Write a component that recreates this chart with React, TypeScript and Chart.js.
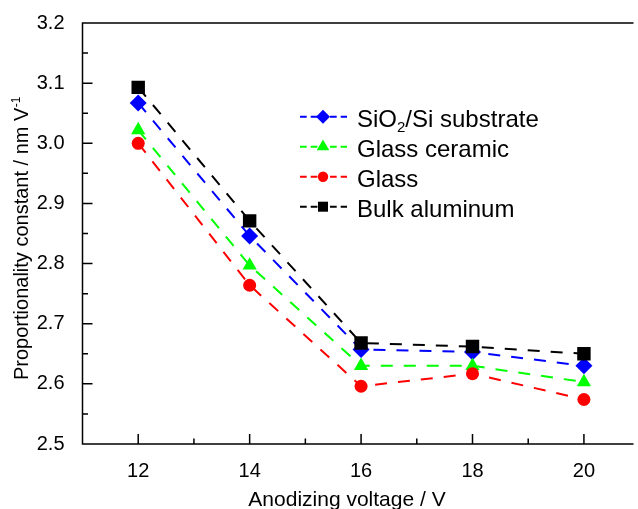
import { useEffect, useRef } from 'react';
import { Chart, registerables } from 'chart.js';

Chart.register(...registerables);

// ---- data ----
const voltages = [12, 14, 16, 18, 20];
const sio2Values = [3.067, 2.846, 2.657, 2.653, 2.63];
const glassCeramicValues = [3.022, 2.797, 2.63, 2.63, 2.603];
const glassValues = [3.0, 2.764, 2.596, 2.617, 2.574];
const bulkAluminumValues = [3.093, 2.871, 2.668, 2.662, 2.65];

const xTickLabels = ['12', '14', '16', '18', '20'];
const yTickLabels = ['2.5', '2.6', '2.7', '2.8', '2.9', '3.0', '3.1', '3.2'];

const seriesNames = ['SiO2/Si substrate', 'Glass ceramic', 'Glass', 'Bulk aluminum'];
const seriesColors = ['#0000ff', '#00ff00', '#ff0000', '#000000'];
const seriesMarkers = ['rectRot', 'triangle', 'circle', 'rect'];

const xTitle = 'Anodizing voltage / V';
const yTitle = 'Proportionality constant / nm V';
const yTitleSup = '-1';

const FONT = "'Liberation Sans', Arial, Helvetica, sans-serif";

function drawMarker(ctx: CanvasRenderingContext2D, style: string, x: number, y: number, size: number, color: string) {
  ctx.save();
  ctx.fillStyle = color;
  ctx.beginPath();
  if (style === 'rect') {
    ctx.rect(x - size / 2, y - size / 2, size, size);
  } else if (style === 'rectRot') {
    ctx.moveTo(x, y - size);
    ctx.lineTo(x + size, y);
    ctx.lineTo(x, y + size);
    ctx.lineTo(x - size, y);
    ctx.closePath();
  } else if (style === 'triangle') {
    ctx.moveTo(x, y - size);
    ctx.lineTo(x + size * 0.866, y + size * 0.5);
    ctx.lineTo(x - size * 0.866, y + size * 0.5);
    ctx.closePath();
  } else {
    ctx.arc(x, y, size, 0, Math.PI * 2);
  }
  ctx.fill();
  ctx.restore();
}

const isMultiple = (v: number, step: number) => Math.abs(v / step - Math.round(v / step)) < 1e-6;

const framePlugin = {
  id: 'frame',
  beforeDatasetsDraw(chart: any) {
    const { ctx, chartArea: a, scales } = chart;
    ctx.save();
    ctx.strokeStyle = '#000';
    ctx.lineWidth = 1.5;
    ctx.beginPath();
    ctx.moveTo(a.right + 5, a.top);
    ctx.lineTo(a.left, a.top);
    ctx.lineTo(a.left, a.bottom);
    ctx.lineTo(a.right + 5, a.bottom);
    ctx.stroke();
    ctx.beginPath();
    scales.x.ticks.forEach((t: any) => {
      const v = t.value;
      if (!isMultiple(v, 1)) return;
      const px = scales.x.getPixelForValue(v);
      if (px <= a.left + 1 || px >= a.right) return;
      const major = xTickLabels.includes(String(Math.round(v)));
      ctx.moveTo(px, a.bottom);
      ctx.lineTo(px, a.bottom - (major ? 10 : 5.5));
    });
    scales.y.ticks.forEach((t: any) => {
      const v = t.value;
      const py = scales.y.getPixelForValue(v);
      if (py >= a.bottom - 1 || py <= a.top + 1) return;
      const major = isMultiple(v, 0.1);
      ctx.moveTo(a.left, py);
      ctx.lineTo(a.left + (major ? 10 : 5.5), py);
    });
    ctx.stroke();
    ctx.restore();
  },
  afterDraw(chart: any) {
    const { ctx } = chart;
    ctx.save();
    ctx.fillStyle = '#000';
    // x title
    ctx.font = `21px ${FONT}`;
    ctx.textAlign = 'center';
    ctx.textBaseline = 'alphabetic';
    ctx.fillText(xTitle, 347, 506);
    // y title
    ctx.save();
    ctx.translate(27.5, 380);
    ctx.rotate(-Math.PI / 2);
    ctx.textAlign = 'left';
    ctx.font = `20px ${FONT}`;
    ctx.fillText(yTitle, 0, 0);
    const w = ctx.measureText(yTitle).width;
    ctx.font = `12px ${FONT}`;
    ctx.fillText(yTitleSup, w + 0.5, -8);
    ctx.restore();

    // legend
    const rowY0 = 116.7;
    const rowGap = 30;
    seriesNames.forEach((name, i) => {
      const y = rowY0 + i * rowGap;
      const color = seriesColors[i];
      ctx.save();
      ctx.strokeStyle = color;
      ctx.lineWidth = 2;
      ctx.setLineDash([6.7, 4]);
      ctx.beginPath();
      ctx.moveTo(300, y);
      ctx.lineTo(317.5, y);
      ctx.moveTo(330, y);
      ctx.lineTo(347, y);
      ctx.stroke();
      ctx.restore();
      const m = seriesMarkers[i];
      const size = m === 'rect' ? 10 : m === 'rectRot' ? 7 : m === 'triangle' ? 7.3 : 5.2;
      drawMarker(ctx, m, 323, y, size, color);
      ctx.fillStyle = '#000';
      ctx.textAlign = 'left';
      ctx.textBaseline = 'alphabetic';
      const base = y + 10;
      let x = 357;
      const subIdx = name.indexOf('O2');
      if (subIdx >= 0) {
        const p1 = name.slice(0, subIdx + 1);
        const p2 = '2';
        const p3 = name.slice(subIdx + 2);
        ctx.font = `24px ${FONT}`;
        ctx.fillText(p1, x, base);
        x += ctx.measureText(p1).width;
        ctx.font = `15px ${FONT}`;
        ctx.fillText(p2, x, base + 5);
        x += ctx.measureText(p2).width;
        ctx.font = `24px ${FONT}`;
        ctx.fillText(p3, x, base);
      } else {
        ctx.font = `24px ${FONT}`;
        ctx.fillText(name, x, base);
      }
    });
    ctx.restore();
  },
};

const seriesValues = [sio2Values, glassCeramicValues, glassValues, bulkAluminumValues];

export default function App() {
  const ref = useRef<HTMLCanvasElement | null>(null);
  useEffect(() => {
    if (!ref.current) return;
    const radii: Record<string, number> = { rect: 9.5, rectRot: 8.5, triangle: 8.2, circle: 6.5 };
    // draw order: index 0 on top -> reverse legend order
    const datasets = [3, 2, 1, 0].map((i) => ({
      label: seriesNames[i],
      data: voltages.map((v, k) => ({ x: v, y: seriesValues[i][k] })),
      borderColor: seriesColors[i],
      backgroundColor: seriesColors[i],
      borderWidth: 2,
      borderDash: [12, 11],
      pointStyle: seriesMarkers[i] as any,
      pointRadius: radii[seriesMarkers[i]],
      pointBorderWidth: 0,
      pointBackgroundColor: seriesColors[i],
      pointBorderColor: seriesColors[i],
      tension: 0,
      fill: false,
    }));
    const chart = new Chart(ref.current, {
      type: 'line',
      data: { datasets },
      options: {
        animation: false,
        responsive: false,
        devicePixelRatio: 1,
        layout: { padding: { top: 23, right: 0, left: 0, bottom: 0 } },
        plugins: { legend: { display: false }, tooltip: { enabled: false } },
        scales: {
          x: {
            type: 'linear',
            min: 11,
            max: 20.8,
            grid: { display: false },
            border: { display: false },
            ticks: {
              stepSize: 1,
              includeBounds: false,
              autoSkip: false,
              maxRotation: 0,
              padding: 7,
              color: '#000',
              font: { family: FONT, size: 20 },
              callback: (v: any) => {
                const s = String(Math.round(Number(v)));
                return isMultiple(Number(v), 1) && xTickLabels.includes(s) ? s : '';
              },
            },
            afterFit: (s: any) => {
              s.height = 65;
            },
          },
          y: {
            type: 'linear',
            min: 2.5,
            max: 3.2,
            grid: { display: false },
            border: { display: false },
            ticks: {
              stepSize: 0.05,
              autoSkip: false,
              padding: 10,
              color: '#000',
              font: { family: FONT, size: 20 },
              callback: (v: any) => {
                const n = Number(v);
                if (!isMultiple(n, 0.1)) return '';
                const s = n.toFixed(1);
                return yTickLabels.includes(s) ? s : '';
              },
            },
            afterFit: (s: any) => {
              s.width = 82.5;
            },
          },
        },
      },
      plugins: [framePlugin],
    });
    return () => chart.destroy();
  }, []);
  return (
    <div style={{ position: 'absolute', left: 0, top: 0, width: 638, height: 509, background: '#fff' }}>
      <canvas ref={ref} width={638} height={509} style={{ display: 'block', width: 638, height: 509 }} />
    </div>
  );
}
